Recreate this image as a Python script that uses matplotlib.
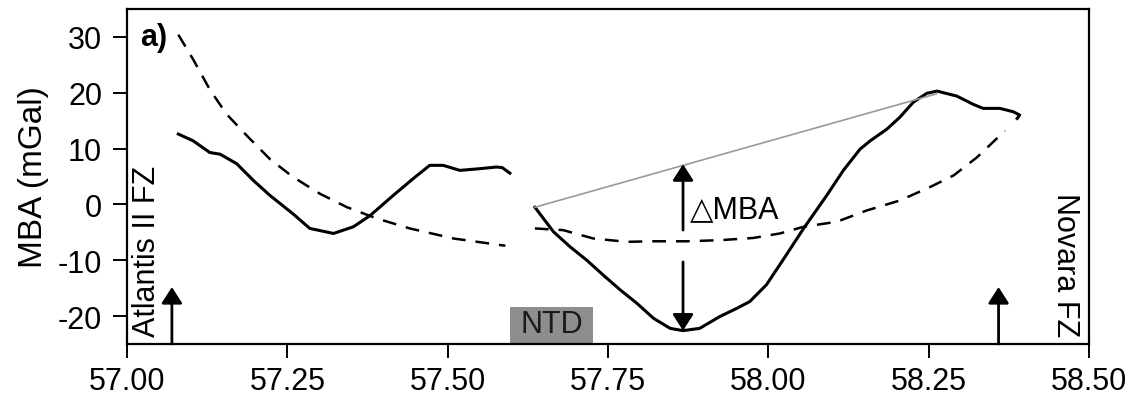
import matplotlib
matplotlib.use("Agg")
import matplotlib.pyplot as plt
from matplotlib.patches import Rectangle

plt.rcParams['font.family'] = ['Liberation Sans', 'DejaVu Sans']
plt.rcParams['axes.unicode_minus'] = False

# MBA profile (solid), two segments either side of the NTD
mba_x1 = [57.080, 57.103, 57.129, 57.145, 57.171, 57.197, 57.223, 57.259, 57.285, 57.322,
          57.353, 57.379, 57.415, 57.446, 57.472, 57.493, 57.519, 57.550, 57.576, 57.585, 57.597]
mba_y1 = [12.6, 11.4, 9.3, 9.0, 7.3, 4.3, 1.6, -1.7, -4.3, -5.2,
          -4.0, -2.0, 1.6, 4.6, 7.0, 7.0, 6.1, 6.4, 6.7, 6.6, 5.6]

mba_x2 = [57.636, 57.665, 57.691, 57.717, 57.743, 57.769, 57.795, 57.821, 57.847, 57.867,
          57.893, 57.924, 57.951, 57.971, 57.997, 58.026, 58.055, 58.091, 58.117, 58.143,
          58.159, 58.185, 58.205, 58.226, 58.247, 58.263, 58.294, 58.320, 58.335, 58.361,
          58.382, 58.392, 58.388]
mba_y2 = [-0.5, -4.9, -7.6, -10.0, -12.7, -15.3, -17.7, -20.4, -22.2, -22.6,
          -22.2, -20.1, -18.6, -17.4, -14.4, -9.4, -4.3, 1.6, 6.1, 9.9,
          11.4, 13.5, 15.6, 18.3, 19.9, 20.3, 19.4, 17.9, 17.2, 17.2,
          16.6, 16.0, 15.4]

# reference curve (dashed)
ref_x1 = [57.080, 57.103, 57.129, 57.155, 57.187, 57.223, 57.259, 57.301, 57.343, 57.389,
          57.441, 57.509, 57.590]
ref_y1 = [30.4, 26.0, 20.6, 16.2, 12.3, 8.1, 4.9, 1.9, -0.5, -2.5,
          -4.3, -6.1, -7.4]

ref_x2 = [57.636, 57.680, 57.727, 57.779, 57.821, 57.873, 57.925, 57.977, 58.018, 58.055,
          58.107, 58.153, 58.205, 58.252, 58.289, 58.325, 58.369]
ref_y2 = [-4.3, -4.6, -6.1, -6.7, -6.6, -6.6, -6.4, -6.0, -5.2, -4.0,
          -3.1, -1.1, 0.7, 3.1, 5.2, 8.4, 13.2]

# straight line joining the segment end points
gray_x = [57.636, 58.262]
gray_y = [-0.5, 19.8]

# delta MBA measurement location
dmba_x = 57.867
dmba_top = 7.2
dmba_bottom = -22.6

# fracture zones
fz_x = [57.07, 58.359]
fz_tip = -14.8
ntd_x = [57.597, 57.727]
ntd_top = -18.3

fig = plt.figure(figsize=(11.32, 4.10), dpi=100)
ax = fig.add_axes([0.1122, 0.1585, 0.8498, 0.8171])

ax.plot(mba_x1, mba_y1, color="black", lw=2.2)
ax.plot(mba_x2, mba_y2, color="black", lw=2.2)
ax.plot(ref_x1, ref_y1, color="black", lw=1.8, dashes=(5.5, 4))
ax.plot(ref_x2, ref_y2, color="black", lw=1.8, dashes=(5.5, 4))
ax.plot(gray_x, gray_y, color="#999999", lw=1.2)

# NTD box
ax.add_patch(Rectangle((ntd_x[0], -25), ntd_x[1] - ntd_x[0], ntd_top + 25,
                       facecolor="#8e8e8e", edgecolor="none", zorder=1))
ax.text(sum(ntd_x) / 2, (ntd_top - 25) / 2 + 0.2, "NTD", ha="center", va="center",
        fontsize=22, color="#1a1a1a")

arrow = dict(arrowstyle="-|>,head_length=0.7,head_width=0.45", lw=2.0, color="black",
             shrinkA=0, shrinkB=0, mutation_scale=14)
ax.annotate("", xy=(dmba_x, dmba_top), xytext=(dmba_x, -4.6), arrowprops=arrow)
ax.annotate("", xy=(dmba_x, dmba_bottom), xytext=(dmba_x, -10.3), arrowprops=arrow)
ax.text(57.877, -0.9, "\u25b3MBA", ha="left", va="center", fontsize=22)

for x in fz_x:
    ax.annotate("", xy=(x, fz_tip), xytext=(x, -25), arrowprops=arrow)

ax.text(57.031, -23.6, "Atlantis II FZ", rotation=90, ha="center", va="bottom", fontsize=22)
ax.text(58.462, 2.2, "Novara FZ", rotation=-90, ha="center", va="top", fontsize=22)
ax.text(57.02, 30, "a)", ha="left", va="center", fontsize=22, fontweight="bold")

ax.set_xlim(57.0, 58.5)
ax.set_ylim(-25, 35)
ax.set_xticks([57.0, 57.25, 57.5, 57.75, 58.0, 58.25, 58.5])
ax.set_xticklabels(["57.00", "57.25", "57.50", "57.75", "58.00", "58.25", "58.50"])
ax.set_yticks([-20, -10, 0, 10, 20, 30])
ax.set_ylabel("MBA (mGal)", fontsize=24, labelpad=6)
ax.tick_params(axis="both", labelsize=22, length=10, width=1.4, direction="out")
ax.tick_params(axis="y", pad=8)
ax.tick_params(axis="x", pad=6)
for s in ax.spines.values():
    s.set_linewidth(1.6)

fig.savefig("out.png", dpi=100)
